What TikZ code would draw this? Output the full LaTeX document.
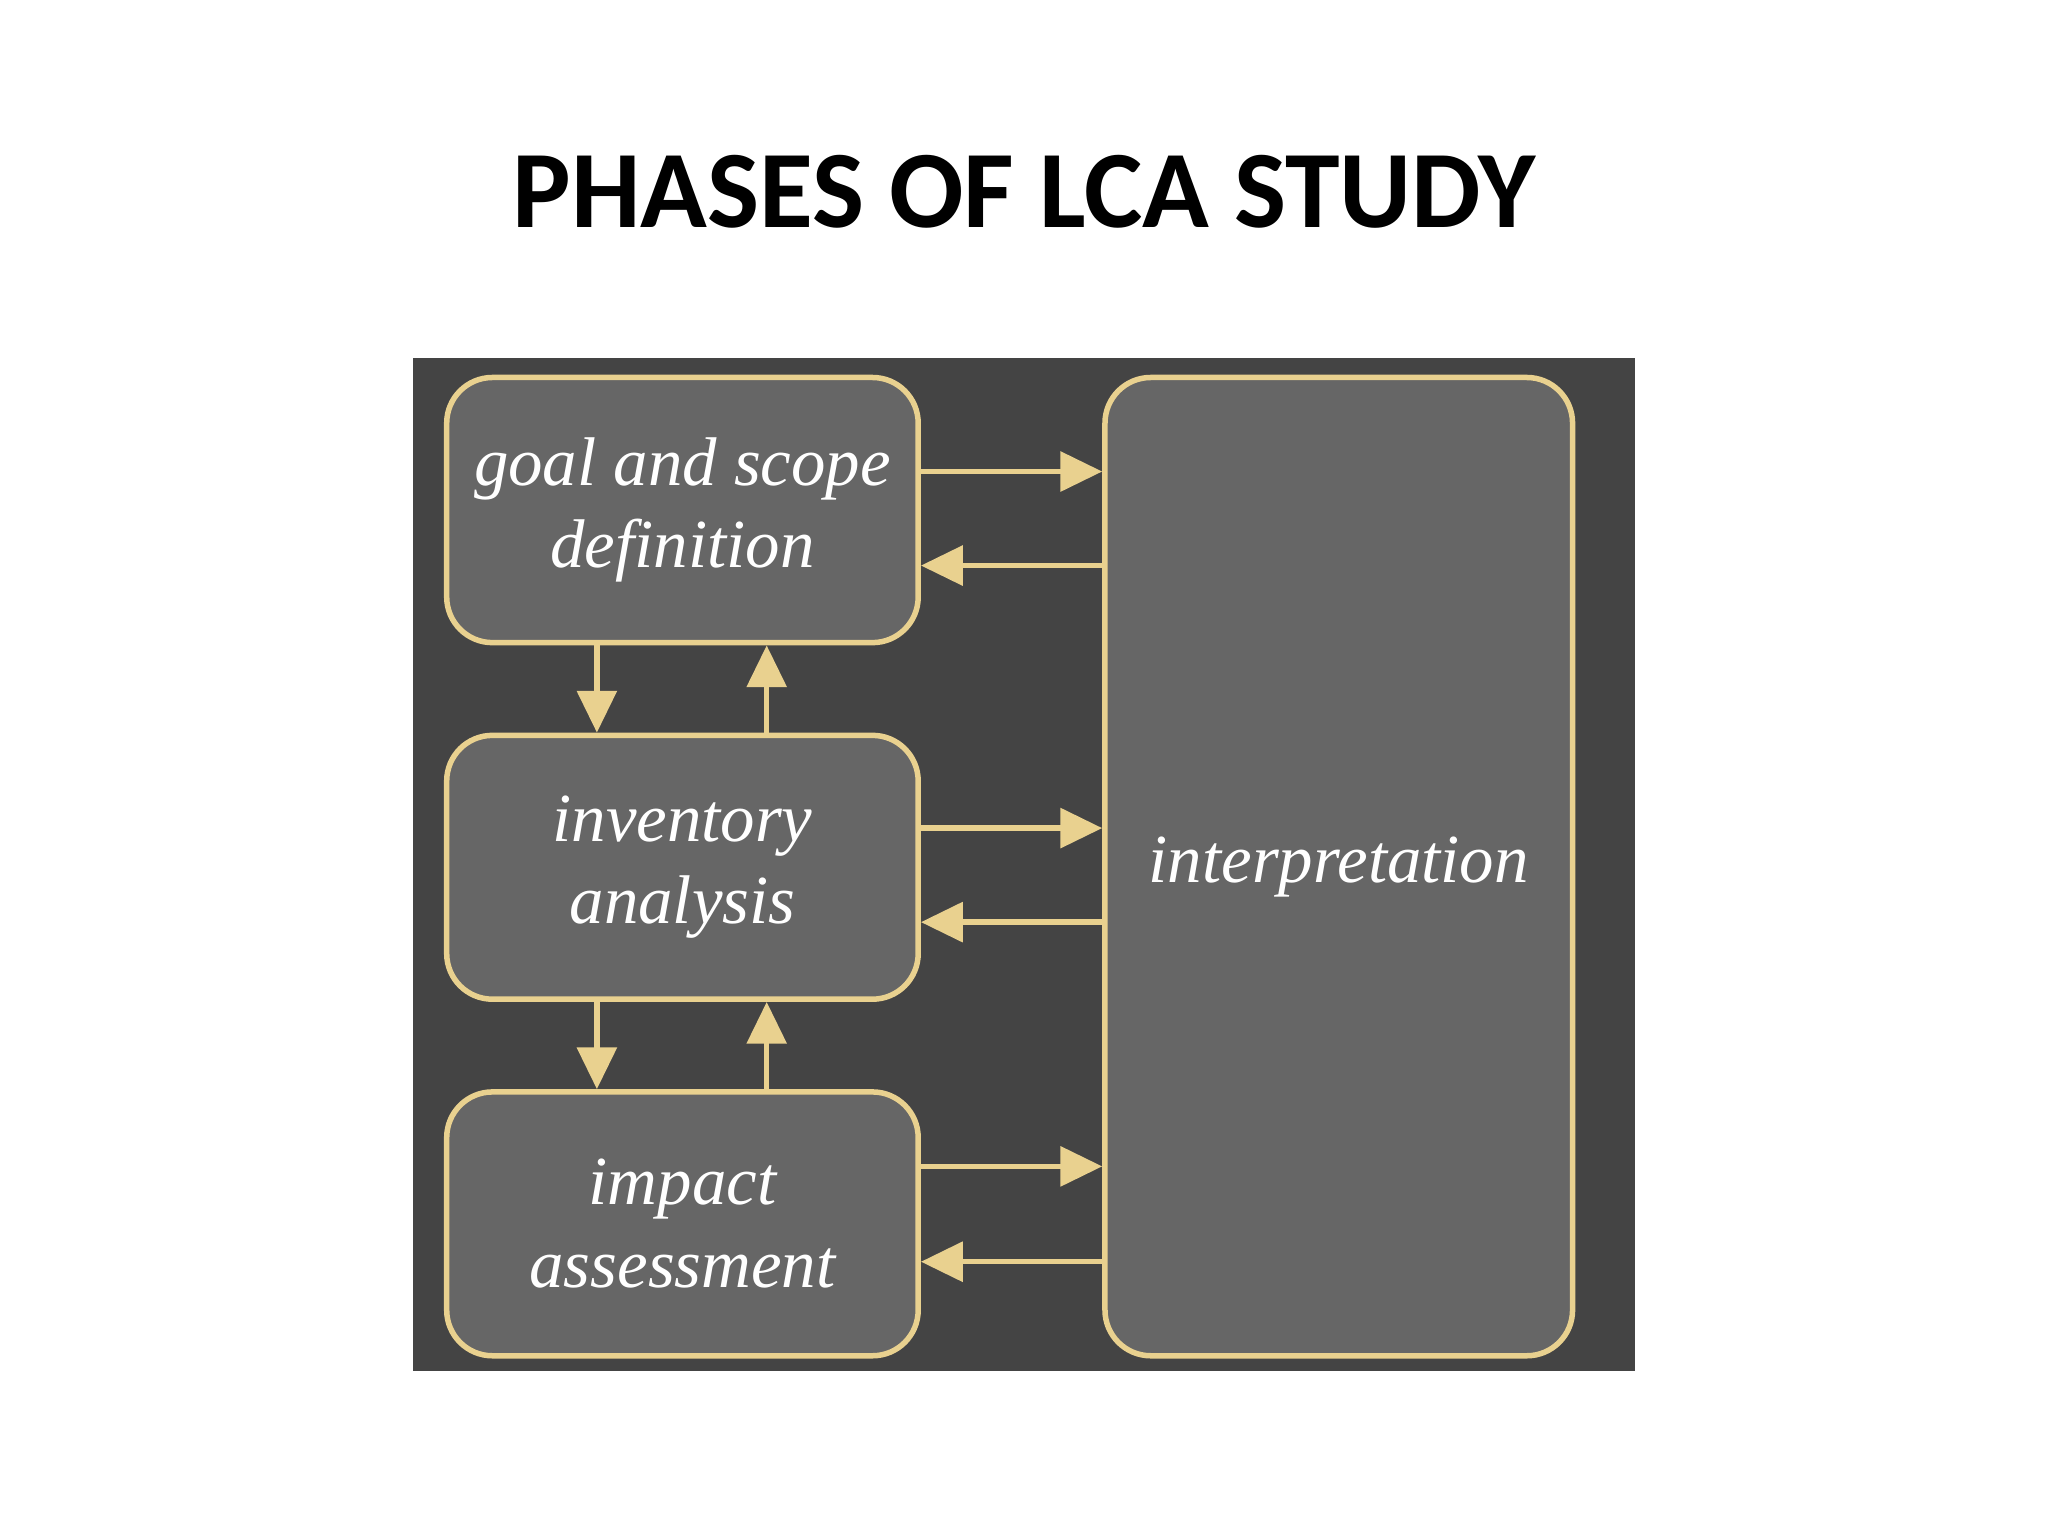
\documentclass[tikz,border=0pt]{standalone}
\usepackage{fontspec}
\setmainfont{Liberation Serif}
\newfontfamily\titlefont{Carlito}
\usetikzlibrary{arrows.meta}
\definecolor{panel}{HTML}{444444}
\definecolor{boxfill}{HTML}{666666}
\definecolor{gold}{HTML}{E9D18F}
\tikzset{
  phase/.style={draw=gold, fill=boxfill, line width=1.2pt, rounded corners=3.5mm, text=white,
    font=\itshape\fontsize{15}{18}\selectfont, align=center},
  flow/.style={draw=gold, line width=1.2pt, -{Triangle[length=3.2mm,width=3mm]}}
}
\begin{document}
\begin{tikzpicture}[x=0.1mm,y=-0.1mm]
\useasboundingbox[fill=white] (0,0) rectangle (1568,1176);
\node[font=\titlefont\bfseries\fontsize{24}{28}\selectfont] (title) at (784,147) {PHASES OF LCA STUDY};
\fill[panel] (316,274) rectangle (1252,1050);
\node[phase, minimum width=36.1mm, minimum height=20.3mm] (goal) at (522.5,390.5) {goal and scope\\definition};
\node[phase, minimum width=36.1mm, minimum height=20.2mm] (inv) at (522.5,664) {inventory\\analysis};
\node[phase, minimum width=36.1mm, minimum height=20.2mm] (imp) at (522.5,937) {impact\\assessment};
\node[phase, minimum width=35.8mm, minimum height=74.9mm] (int) at (1025,663.5) {interpretation};
\foreach \b/\ya/\yb in {goal/361/433, inv/634/706, imp/893/966}{
  \draw[flow] (\b.east |- 0,\ya) -- (int.west |- 0,\ya);
  \draw[flow] (int.west |- 0,\yb) -- (\b.east |- 0,\yb);
}
\draw[flow] (goal.south -| 457,0) -- (inv.north -| 457,0);
\draw[flow] (inv.north -| 587,0) -- (goal.south -| 587,0);
\draw[flow] (inv.south -| 457,0) -- (imp.north -| 457,0);
\draw[flow] (imp.north -| 587,0) -- (inv.south -| 587,0);
\end{tikzpicture}
\end{document}
